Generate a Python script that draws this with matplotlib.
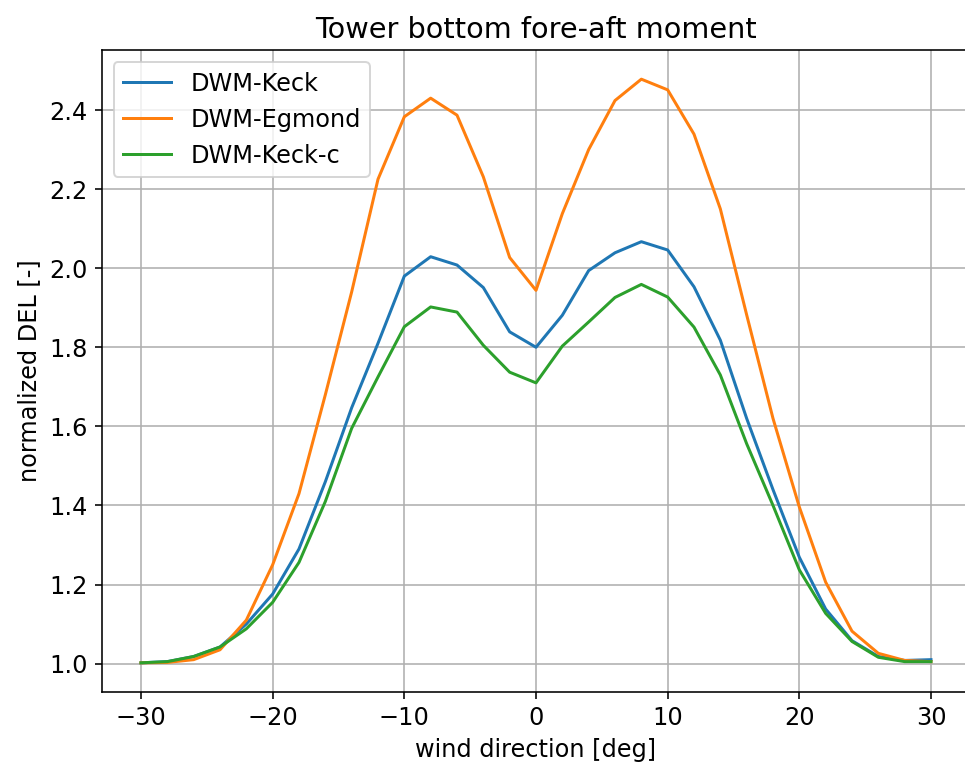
import numpy as np
import matplotlib
matplotlib.use('Agg')
import matplotlib.pyplot as plt

# wind direction [deg]
wind_dir = np.arange(-30, 31, 2)

# normalized DEL
del_keck = [1.002, 1.005, 1.018, 1.042, 1.100, 1.176, 1.290, 1.460, 1.647, 1.810,
            1.980, 2.029, 2.008, 1.951, 1.839, 1.800, 1.881, 1.994, 2.039, 2.067,
            2.046, 1.953, 1.818, 1.620, 1.440, 1.269, 1.138, 1.058, 1.018, 1.008, 1.010]
del_egmond = [1.002, 1.003, 1.010, 1.035, 1.110, 1.250, 1.430, 1.680, 1.940, 2.225,
              2.383, 2.430, 2.387, 2.231, 2.027, 1.944, 2.138, 2.300, 2.424, 2.478,
              2.451, 2.339, 2.150, 1.882, 1.620, 1.396, 1.206, 1.082, 1.026, 1.008, 1.005]
del_keck_c = [1.002, 1.005, 1.018, 1.042, 1.088, 1.155, 1.256, 1.410, 1.595, 1.725,
              1.852, 1.902, 1.889, 1.805, 1.737, 1.710, 1.803, 1.864, 1.926, 1.959,
              1.927, 1.851, 1.730, 1.556, 1.400, 1.237, 1.127, 1.056, 1.016, 1.005, 1.005]

plt.rcParams['font.size'] = 12

fig = plt.figure(figsize=(965 / 144, 769 / 144), dpi=144)
ax = fig.add_axes([101.5 / 965, 77 / 769, 869 / 965, 642 / 769])

ax.plot(wind_dir, del_keck, label='DWM-Keck')
ax.plot(wind_dir, del_egmond, label='DWM-Egmond')
ax.plot(wind_dir, del_keck_c, label='DWM-Keck-c')

ax.set_title('Tower bottom fore-aft moment')
ax.set_xlabel('wind direction [deg]')
ax.set_ylabel('normalized DEL [-]')
ax.grid(True)
ax.legend(loc='upper left')

fig.savefig('out.png', dpi=144)
